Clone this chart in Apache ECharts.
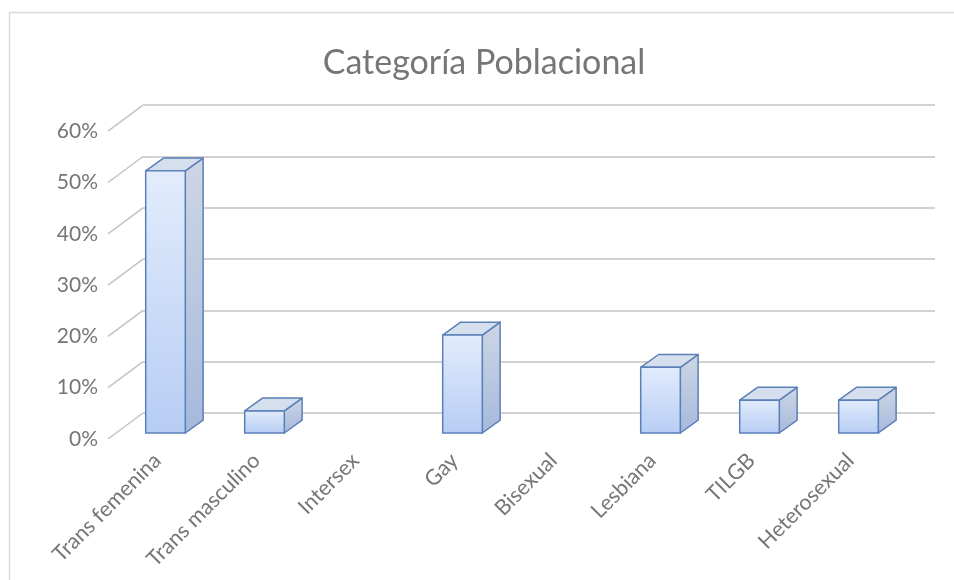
<!DOCTYPE html>
<html><head><meta charset="utf-8">
<script src="https://cdn.jsdelivr.net/npm/echarts@6/dist/echarts.min.js"></script>
<style>html,body{margin:0;padding:0;background:#fff}#c{width:954px;height:580px}</style>
</head><body><div id="c"></div>
<script>
var title = 'Categoría Poblacional';
var categories = ['Trans femenina','Trans masculino','Intersex','Gay','Bisexual','Lesbiana','TILGB','Heterosexual'];
var values = [0.511, 0.043, 0, 0.191, 0, 0.128, 0.064, 0.064];
var yTicks = [0, 0.1, 0.2, 0.3, 0.4, 0.5, 0.6];

var FONT = 'Lato, "Open Sans", sans-serif';
var TXT = '#767676';
var GRIDC = '#c3c3c3';
var yAx = function(gi, show, splitShow){
  return {type:'value', gridIndex:gi, min:0, max:0.6, interval:0.1,
    axisLine:{show:false}, axisTick:{show:false},
    axisLabel:{show:show, margin:10, color:TXT, fontFamily:FONT, fontSize:21,
      formatter:function(v){return Math.round(v*100)+'%';}},
    splitLine:{show:splitShow, lineStyle:{color:GRIDC, width:1.5}}};
};
var xAx = function(gi, show){
  return {type:'category', gridIndex:gi, data:categories,
    axisLine:{show:false}, axisTick:{show:false},
    axisLabel:{show:show, rotate:45, margin:18, color:TXT, fontFamily:FONT, fontSize:21.5, interval:0},
    splitLine:{show:false}};
};

var chart = echarts.init(document.getElementById('c'), null, {renderer:'canvas'});
chart.setOption({
  animation:false,
  backgroundColor:'#ffffff',
  title:{text:title, left:479, top:41, textAlign:'center',
    textStyle:{color:TXT, fontFamily:FONT, fontSize:34, fontWeight:'normal'}},
  graphic:[{type:'rect', shape:{x:9.5, y:12.5, width:960, height:600},
    style:{fill:'none', stroke:'#d9d9d9', lineWidth:1.5}, z:-10}],
  grid:[
    {left:116, right:46, top:125.2, bottom:147},
    {left:143, right:19, top:105.2, bottom:167},
    {left:108, right:54, top:131.2, bottom:141}
  ],
  xAxis:[xAx(0,false), xAx(1,false), xAx(2,true)],
  yAxis:[yAx(0,false,false), yAx(1,false,true), yAx(2,true,false)],
  series:[
    {type:'custom', xAxisIndex:2, yAxisIndex:2, data:yTicks, z:1,
      renderItem:function(params, api){
        var v = api.value(0);
        var p = api.coord([0, v]);
        var half = api.size([1,0])[0]/2;
        var x = p[0]-half;
        return {type:'line', shape:{x1:x, y1:p[1], x2:x+35, y2:p[1]-26},
          style:{stroke:GRIDC, lineWidth:1.5}};
      },
      encode:{y:0}},
    {type:'custom', xAxisIndex:0, yAxisIndex:0, z:5,
      data:values.map(function(v,i){return [i,v];}),
      renderItem:function(params, api){
        var i = api.value(0), v = api.value(1);
        if (!v) return null;
        var band = api.size([1,0])[0];
        var w = band*0.4, dx = band*0.18, dy = dx*0.72;
        var top = api.coord([i, v]), base = api.coord([i, 0]);
        var x0 = top[0]-w/2, x1 = top[0]+w/2, yt = top[1], yb = base[1];
        var stroke = '#5b80b8';
        return {type:'group', children:[
          {type:'polygon', shape:{points:[[x1,yt],[x1+dx,yt-dy],[x1+dx,yb-dy],[x1,yb]]},
            style:{fill:new echarts.graphic.LinearGradient(0,0,0,1,[{offset:0,color:'#cdd6e4'},{offset:1,color:'#a6b9dc'}]),
              stroke:stroke, lineWidth:1.5, lineJoin:'round'}},
          {type:'polygon', shape:{points:[[x0,yt],[x1,yt],[x1+dx,yt-dy],[x0+dx,yt-dy]]},
            style:{fill:'#d6dfed', stroke:stroke, lineWidth:1.5, lineJoin:'round'}},
          {type:'rect', shape:{x:x0, y:yt, width:w, height:yb-yt},
            style:{fill:new echarts.graphic.LinearGradient(0,0,0,1,[{offset:0,color:'#e2ecfc'},{offset:1,color:'#b7cdf4'}]),
              stroke:stroke, lineWidth:1.5}}
        ]};
      },
      encode:{x:0, y:1}}
  ]
});
</script></body></html>
